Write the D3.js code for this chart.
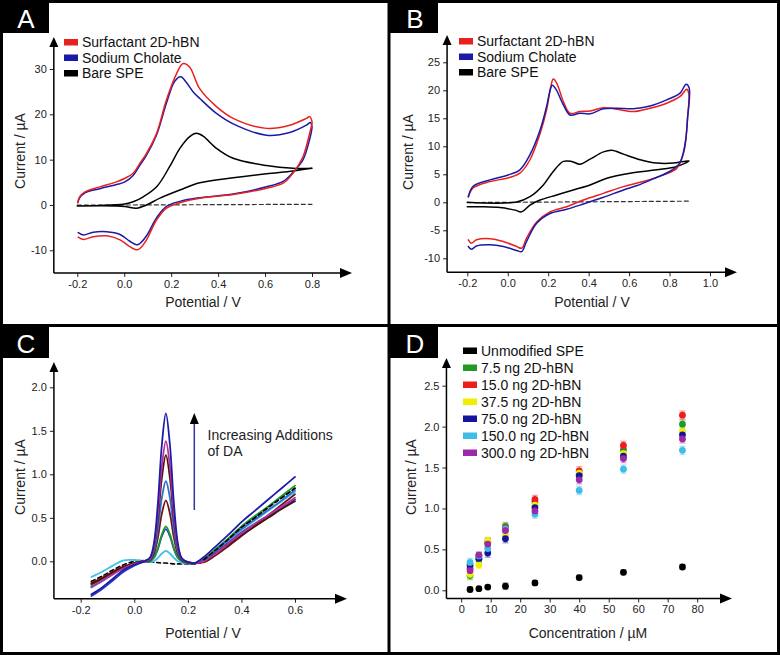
<!DOCTYPE html>
<html><head><meta charset="utf-8">
<script src="https://cdn.jsdelivr.net/npm/d3@7"></script>
<style>
body{margin:0;background:#fff}
svg{display:block}
text{font-family:"Liberation Sans",Arial,Helvetica,sans-serif}
</style>
</head><body>
<svg id="chart" width="780" height="655"></svg>
<script>
// ---------------- DATA ----------------
// Panel A (CV, -0.2..0.8 V)
const aTicksX = [-0.2, 0.0, 0.2, 0.4, 0.6, 0.8];
const aTicksY = [-10, 0, 10, 20, 30];
const aLegend = ["Surfactant 2D-hBN", "Sodium Cholate", "Bare SPE"];
const aRedV = [-0.198,-0.19,-0.167,-0.104,-0.033,0.003,0.038,0.067,0.095,0.138,0.18,0.223,0.251,0.279,0.322,0.393,0.464,0.606,0.705,0.776,0.79,0.8,
               0.8,0.79,0.762,0.719,0.677,0.606,0.464,0.322,0.237,0.18,0.138,0.095,0.067,0.052,0.024,-0.018,-0.075,-0.132,-0.174,-0.196];
const aRedI = [0.6,1.8,2.9,4.0,5.1,5.9,7.0,9.2,11.4,15.8,23.2,29.0,31.2,30.4,25.6,21.7,19.1,16.9,17.6,19.1,19.5,18.4,
               18.0,15.8,10.7,7.0,4.8,3.7,2.3,1.5,0.5,-0.7,-3.3,-7.7,-9.6,-9.9,-9.2,-7.7,-6.8,-7.0,-7.6,-7.1];
const aBlueV = [-0.198,-0.19,-0.167,-0.104,-0.033,0.003,0.038,0.067,0.095,0.138,0.18,0.215,0.241,0.265,0.293,0.322,0.393,0.464,0.606,0.705,0.776,0.793,0.8,
                0.8,0.79,0.762,0.719,0.677,0.606,0.464,0.322,0.237,0.18,0.138,0.095,0.067,0.055,0.024,-0.018,-0.075,-0.132,-0.174,-0.196];
const aBlueI = [0.5,1.6,2.7,3.6,4.5,5.1,6.5,8.8,11.0,15.5,22.5,27.3,28.3,27.0,25.0,23.5,20.2,17.9,15.4,16.0,17.6,18.2,17.3,
                17.0,14.5,10.0,7.2,5.2,4.0,2.4,1.6,0.8,-0.3,-2.8,-6.8,-8.5,-8.8,-8.0,-6.5,-5.9,-6.0,-6.6,-6.1];
const aBlackV = [-0.2,-0.104,-0.004,0.038,0.081,0.138,0.194,0.237,0.279,0.308,0.336,0.393,0.464,0.606,0.719,0.8,
                 0.8,0.719,0.606,0.464,0.322,0.237,0.152,0.095,0.052,0.01,-0.033,-0.2];
const aBlackI = [-0.2,-0.1,0.15,0.7,1.8,4.0,8.5,12.5,15.1,15.8,15.2,12.5,10.3,8.7,8.1,8.1,
                 8.1,7.5,6.9,6.0,4.9,3.3,1.5,0.0,-0.7,-0.4,-0.2,-0.2];
const aDashV = [-0.2, 0.8];
const aDashI = [-0.05, 0.15];

// Panel B (CV, -0.2..0.9 V)
const bTicksX = [-0.2, 0.0, 0.2, 0.4, 0.6, 0.8, 1.0];
const bTicksY = [-10, -5, 0, 5, 10, 15, 20, 25];
const bLegend = ["Surfactant 2D-hBN", "Sodium Cholate", "Bare SPE"];
const bRedV = [-0.195,-0.17,-0.088,-0.005,0.06,0.11,0.16,0.192,0.212,0.225,0.242,0.275,0.308,0.357,0.407,0.473,0.54,0.62,0.704,0.786,0.852,0.885,0.895,
               0.889,0.88,0.869,0.836,0.77,0.67,0.572,0.473,0.374,0.291,0.209,0.143,0.093,0.069,0.044,-0.022,-0.088,-0.154,-0.18,-0.195];
const bRedI = [1.0,2.6,3.7,4.3,5.2,7.6,12.3,16.5,20.5,22.0,21.3,18.0,15.9,16.2,16.3,16.9,16.6,16.2,16.8,17.7,18.9,20.2,19.5,
               15.0,11.0,8.75,6.1,4.9,3.7,2.8,1.6,0.4,-0.8,-1.7,-3.5,-6.4,-8.2,-7.9,-7.0,-6.5,-6.7,-7.3,-6.7];
const bBlueV = [-0.195,-0.17,-0.088,-0.005,0.06,0.11,0.16,0.192,0.208,0.22,0.238,0.275,0.308,0.357,0.407,0.473,0.54,0.62,0.704,0.786,0.852,0.882,0.897,
                0.889,0.877,0.85,0.80,0.72,0.64,0.572,0.473,0.374,0.291,0.209,0.143,0.093,0.069,0.044,-0.022,-0.088,-0.154,-0.18,-0.195];
const bBlueI = [1.0,2.9,4.0,4.8,5.8,8.5,12.9,17.1,19.8,20.9,20.2,17.4,15.6,15.9,15.8,16.7,16.8,16.7,17.2,18.3,19.5,21.1,20.4,
                15.0,10.5,7.0,5.5,4.2,3.0,2.2,0.9,-0.3,-1.25,-2.0,-3.75,-7.0,-8.8,-8.6,-7.9,-7.6,-7.8,-8.4,-7.9];
const bBlackV = [-0.2,0.044,0.11,0.176,0.225,0.275,0.316,0.357,0.407,0.473,0.514,0.572,0.655,0.737,0.819,0.869,0.897,
                 0.836,0.737,0.605,0.49,0.407,0.324,0.242,0.16,0.11,0.069,0.036,-0.038,-0.12,-0.2];
const bBlackI = [0.0,0.05,1.0,3.1,5.5,7.3,7.3,6.8,7.7,9.0,9.3,8.6,7.6,7.0,7.0,7.3,7.4,
                 6.4,5.8,5.2,4.3,3.1,2.2,1.3,0.4,-0.5,-1.7,-1.4,-0.95,-0.8,-0.8];
const bDashV = [-0.2, 0.9];
const bDashI = [-0.05, 0.2];

// Panel C (DPV, additions of DA)
const cTicksX = [-0.2, 0.0, 0.2, 0.4, 0.6];
const cTicksY = [0.0, 0.5, 1.0, 1.5, 2.0];
const cV = [-0.16,-0.12,-0.08,-0.04,0.0,0.03,0.058,0.073,0.088,0.103,0.118,0.133,0.148,0.163,0.178,0.2,0.225,0.26,0.3,0.35,0.4,0.45,0.5,0.55,0.6];
const cBlank   = [-0.23,-0.17,-0.10,-0.04,0.0,0.01,-0.005,-0.01,-0.015,-0.02,-0.02,-0.025,-0.03,-0.03,-0.03,-0.03,-0.03,0.02,0.12,0.25,0.39,0.50,0.62,0.73,0.84];
const cCyan    = [-0.18,-0.12,-0.05,0.01,0.015,0.005,-0.01,0.0,0.04,0.09,0.12,0.09,0.04,0.0,-0.02,-0.025,-0.025,0.02,0.11,0.24,0.36,0.47,0.58,0.69,0.80];
const cBlue    = [-0.40,-0.32,-0.22,-0.12,-0.05,-0.01,0.0,0.04,0.14,0.29,0.37,0.29,0.14,0.04,0.0,-0.02,-0.025,0.0,0.09,0.21,0.33,0.43,0.52,0.61,0.71];
const cGreen   = [-0.27,-0.20,-0.13,-0.07,-0.02,0.0,0.0,0.04,0.15,0.31,0.40,0.31,0.15,0.04,0.0,-0.02,-0.025,0.03,0.13,0.26,0.40,0.52,0.63,0.75,0.87];
const cBrown   = [-0.25,-0.19,-0.12,-0.06,-0.02,0.0,0.01,0.08,0.27,0.55,0.70,0.55,0.27,0.08,0.01,-0.015,-0.025,-0.01,0.06,0.17,0.29,0.41,0.53,0.65,0.77];
const cSteel   = [-0.30,-0.23,-0.15,-0.08,-0.03,0.0,0.02,0.11,0.36,0.73,0.92,0.73,0.36,0.11,0.02,-0.01,-0.02,0.02,0.11,0.24,0.37,0.48,0.59,0.70,0.82];
const cDkBrown = [-0.26,-0.20,-0.13,-0.07,-0.02,0.0,0.03,0.15,0.48,0.96,1.22,0.96,0.48,0.15,0.03,-0.01,-0.02,0.0,0.08,0.19,0.30,0.40,0.50,0.60,0.69];
const cMagenta = [-0.29,-0.22,-0.15,-0.08,-0.03,-0.005,0.03,0.16,0.54,1.09,1.38,1.09,0.54,0.16,0.03,-0.01,-0.02,0.0,0.08,0.20,0.32,0.43,0.53,0.63,0.73];
const cNavy    = [-0.38,-0.30,-0.20,-0.10,-0.04,-0.01,0.04,0.20,0.66,1.34,1.70,1.34,0.66,0.20,0.03,-0.01,-0.02,0.05,0.16,0.30,0.45,0.58,0.71,0.84,0.97];
const cNote = ["Increasing Additions", "of DA"];

// Panel D (calibration)
const dTicksX = [0, 10, 20, 30, 40, 50, 60, 70, 80];
const dTicksY = [0.0, 0.5, 1.0, 1.5, 2.0, 2.5];
const dConc = [3, 6, 9, 15, 25, 40, 55, 75];
const dNames = ["Unmodified SPE", "7.5 ng 2D-hBN", "15.0 ng 2D-hBN", "37.5 ng 2D-hBN", "75.0 ng 2D-hBN", "150.0 ng 2D-hBN", "300.0 ng 2D-hBN"];
const dUnmod = [0.01, 0.02, 0.04, 0.05, 0.09, 0.155, 0.22, 0.285];
const d7_5   = [0.18, 0.38, 0.59, 0.78, 1.08, 1.42, 1.72, 2.03];
const d15    = [0.27, 0.42, 0.585, 0.76, 1.11, 1.46, 1.77, 2.14];
const d37_5  = [0.195, 0.31, 0.60, 0.66, 1.04, 1.43, 1.67, 1.94];
const d75    = [0.31, 0.39, 0.455, 0.63, 1.01, 1.40, 1.64, 1.90];
const d150   = [0.34, 0.42, 0.51, 0.75, 0.93, 1.22, 1.48, 1.71];
const d300   = [0.24, 0.43, 0.565, 0.73, 0.97, 1.35, 1.61, 1.85];
const dErrUnmod = [0.03, 0.02, 0.02, 0.04, 0.03, 0.03, 0.03, 0.03];
const dErrHbn   = [0.05, 0.04, 0.05, 0.05, 0.05, 0.05, 0.05, 0.05];

// ---------------- DRAWING ----------------
const svg = d3.select("#chart");
const pairs = (V, I) => V.map((v, i) => [v, I[i]]);
const fmt1 = d => d.toFixed(1);
const fmt0 = d => String(d);

function makePanel(cfg) {
  const x = d3.scaleLinear().domain(cfg.xd).range(cfg.xr);
  const y = d3.scaleLinear().domain(cfg.yd).range(cfg.yr);
  const g = svg.append("g");
  const x0 = x(cfg.xMin), y0 = y(cfg.yMin);
  const ay = g.append("g").attr("transform", `translate(${x0},0)`)
    .call(d3.axisLeft(y).tickValues(cfg.ty).tickFormat(cfg.fy).tickSize(4).tickPadding(3));
  const ax = g.append("g").attr("transform", `translate(0,${y0})`)
    .call(d3.axisBottom(x).tickValues(cfg.tx).tickFormat(cfg.fx).tickSize(4).tickPadding(3));
  [ax, ay].forEach(a => {
    a.select(".domain").remove();
    a.selectAll("line").attr("stroke", "#222").attr("stroke-width", 1);
    a.selectAll("text").attr("font-size", 11).attr("fill", "#222")
      .style("font-family", '"Liberation Sans",Arial,sans-serif');
  });
  g.append("line").attr("x1", x0).attr("x2", x0).attr("y1", y0).attr("y2", cfg.yTip + 8)
    .attr("stroke", "#000").attr("stroke-width", 1.5);
  g.append("line").attr("x1", x0).attr("x2", cfg.xTip - 10).attr("y1", y0).attr("y2", y0)
    .attr("stroke", "#000").attr("stroke-width", 1.5);
  g.append("path").attr("d", `M${x0},${cfg.yTip}L${x0 - 4.5},${cfg.yTip + 10}L${x0 + 4.5},${cfg.yTip + 10}Z`).attr("fill", "#000");
  g.append("path").attr("d", `M${cfg.xTip},${y0}L${cfg.xTip - 12},${y0 - 5}L${cfg.xTip - 12},${y0 + 5}Z`).attr("fill", "#000");
  g.append("text").attr("x", cfg.xTitle[0]).attr("y", cfg.xTitle[1]).attr("text-anchor", "middle")
    .attr("font-size", 14).attr("fill", "#222").text(cfg.xLabel);
  g.append("text").attr("transform", `translate(${cfg.yTitle[0]},${cfg.yTitle[1]}) rotate(-90)`)
    .attr("text-anchor", "middle").attr("font-size", 14).attr("fill", "#222").text(cfg.yLabel);
  return {g, x, y};
}

function drawLine(p, data, color, width, dash) {
  const line = d3.line().x(d => p.x(d[0])).y(d => p.y(d[1])).curve(d3.curveCatmullRom.alpha(0.5));
  p.g.append("path").attr("d", line(data)).attr("fill", "none").attr("stroke", color)
    .attr("stroke-width", width).attr("stroke-linejoin", "round").attr("stroke-linecap", "round")
    .attr("stroke-dasharray", dash || null);
}

function legend(g, names, colors, x, y0, dy, fs) {
  names.forEach((n, i) => {
    g.append("rect").attr("x", x).attr("y", y0 + i * dy - 3).attr("width", 14).attr("height", 6.5).attr("fill", colors[i]);
    g.append("text").attr("x", x + 18).attr("y", y0 + i * dy + 5).attr("font-size", fs).attr("fill", "#111").text(n);
  });
}

// Panel A
const pA = makePanel({xd: [-0.2, 0.8], xr: [77.3, 312], yd: [-10, 30], yr: [250.3, 69],
  xMin: -0.3, yMin: -15, xTip: 352, yTip: 37, tx: aTicksX, ty: aTicksY, fx: fmt1, fy: fmt0,
  xLabel: "Potential / V", yLabel: "Current / µA", xTitle: [203, 307], yTitle: [25, 151]});
drawLine(pA, pairs(aDashV, aDashI), "#333", 1.2, "4,3");
drawLine(pA, pairs(aBlackV, aBlackI), "#000", 1.5);
drawLine(pA, pairs(aBlueV, aBlueI), "#1a1aa8", 1.5);
drawLine(pA, pairs(aRedV, aRedI), "#e8211f", 1.5);
legend(pA.g, aLegend, ["#e8211f", "#1a1aa8", "#000"], 64, 42, 15.5, 14);

// Panel B
const pB = makePanel({xd: [-0.2, 1.0], xr: [467.3, 710], yd: [-10, 25], yr: [258.3, 62.3],
  xMin: -0.3, yMin: -12.5, xTip: 737, yTip: 35, tx: bTicksX, ty: bTicksY, fx: fmt1, fy: fmt0,
  xLabel: "Potential / V", yLabel: "Current / µA", xTitle: [592, 307], yTitle: [413, 152]});
drawLine(pB, pairs(bDashV, bDashI), "#333", 1.2, "4,3");
drawLine(pB, pairs(bBlackV, bBlackI), "#000", 1.5);
drawLine(pB, pairs(bRedV, bRedI), "#e8211f", 1.5);
drawLine(pB, pairs(bBlueV, bBlueI), "#1a1aa8", 1.5);
legend(pB.g, bLegend, ["#e8211f", "#1a1aa8", "#000"], 459, 41, 15.5, 14);

// Panel C
const pC = makePanel({xd: [-0.2, 0.6], xr: [80.7, 295], yd: [0, 2.0], yr: [561.3, 387.3],
  xMin: -0.3, yMin: -0.43, xTip: 347, yTip: 362, tx: cTicksX, ty: cTicksY, fx: fmt1, fy: fmt1,
  xLabel: "Potential / V", yLabel: "Current / µA", xTitle: [203, 638], yTitle: [25, 477]});
const cSeries = [
  [cCyan, "#3ec3e6"], [cBlue, "#2438c8"], [cGreen, "#1f9a2a"], [cBrown, "#6e1414"],
  [cSteel, "#2f6fcf"], [cDkBrown, "#4a1208"], [cMagenta, "#b8309a"], [cNavy, "#1c1ca8"]];
drawLine(pC, pairs(cV, cBlank), "#000", 1.6, "4,3");
cSeries.forEach(([vals, col]) => drawLine(pC, pairs(cV, vals), col, 1.8));
drawLine(pC, pairs(cV, cBlank).slice(17), "#000", 1.6, "4,3");
pC.g.append("line").attr("x1", 194.3).attr("x2", 194.3).attr("y1", 510).attr("y2", 422)
  .attr("stroke", "#3535a0").attr("stroke-width", 1.5);
pC.g.append("path").attr("d", "M194.3,413L189.8,424L198.8,424Z").attr("fill", "#000");
cNote.forEach((t, i) => pC.g.append("text").attr("x", 207.5).attr("y", 440 + i * 15.5)
  .attr("font-size", 14).attr("fill", "#222").text(t));

// Panel D
const pD = makePanel({xd: [0, 80], xr: [461.2, 697.2], yd: [0, 2.5], yr: [590.3, 385.7],
  xMin: -5, yMin: -0.1, xTip: 732, yTip: 358, tx: dTicksX, ty: dTicksY, fx: fmt0, fy: fmt1,
  xLabel: "Concentration / µM", yLabel: "Current / µA", xTitle: [588, 638], yTitle: [416, 477]});
const dColors = ["#000000", "#229922", "#ee1c1c", "#f2ee00", "#14149c", "#3dbde8", "#9b2aa8"];
const dSeries = [dUnmod, d7_5, d15, d37_5, d75, d150, d300];
dSeries.forEach((vals, s) => {
  const err = s === 0 ? dErrUnmod : dErrHbn;
  const col = dColors[s];
  const eg = pD.g.append("g").attr("stroke", s === 0 ? "#9a9aa8" : col).attr("stroke-opacity", s === 0 ? 0.8 : 0.4).attr("stroke-width", 1.3);
  vals.forEach((v, i) => {
    const cx = pD.x(dConc[i]);
    eg.append("line").attr("x1", cx).attr("x2", cx).attr("y1", pD.y(v - err[i])).attr("y2", pD.y(v + err[i]));
    eg.append("line").attr("x1", cx - 3).attr("x2", cx + 3).attr("y1", pD.y(v - err[i])).attr("y2", pD.y(v - err[i]));
    eg.append("line").attr("x1", cx - 3).attr("x2", cx + 3).attr("y1", pD.y(v + err[i])).attr("y2", pD.y(v + err[i]));
  });
});
dSeries.forEach((vals, s) => {
  pD.g.append("g").selectAll("circle").data(vals).join("circle")
    .attr("cx", (d, i) => pD.x(dConc[i])).attr("cy", d => pD.y(d)).attr("r", 3.4).attr("fill", dColors[s]);
});
legend(pD.g, dNames, dColors, 463, 350.5, 17, 14);

// ---------------- FRAMES & PANEL LETTERS ----------------
const fr = svg.append("g").attr("stroke", "#000").attr("stroke-width", 3).attr("fill", "none");
fr.append("rect").attr("x", 1.5).attr("y", 1.5).attr("width", 777).attr("height", 652);
fr.append("line").attr("x1", 389).attr("x2", 389).attr("y1", 0).attr("y2", 655);
fr.append("line").attr("x1", 0).attr("x2", 780).attr("y1", 325.5).attr("y2", 325.5);
[["A", 0, 0], ["B", 389, 0], ["C", 0, 325], ["D", 389, 325]].forEach(([t, bx, by]) => {
  svg.append("rect").attr("x", bx).attr("y", by).attr("width", 49).attr("height", 33).attr("fill", "#000");
  svg.append("text").attr("x", bx + 26).attr("y", by + 28).attr("text-anchor", "middle")
    .attr("font-size", 26).attr("fill", "#fff").text(t);
});
</script>
</body></html>
